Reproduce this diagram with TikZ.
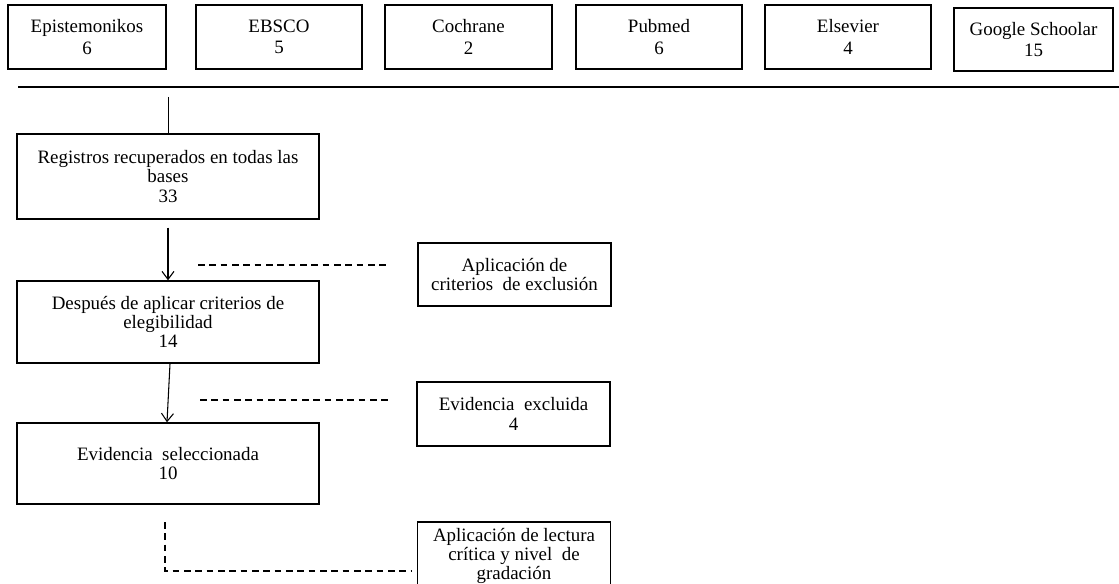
\documentclass[tikz,border=0pt]{standalone}
\usepackage{fontspec}
\setmainfont{Liberation Serif}
\usepackage{tikz}
\usetikzlibrary{calc,arrows.meta}

\begin{document}
\begin{tikzpicture}[x=0.75pt,y=-0.75pt,
	caja/.style={draw,line width=1.1pt,align=center,inner sep=0pt,font=\fontsize{14.2}{14.4}\selectfont},
	base/.style={caja,minimum height=48pt,font=\fontsize{14.2}{16}\selectfont},
	flecha/.style={line width=0.8pt,-{Straight Barb[length=6pt,width=9pt]}},
	guion/.style={line width=0.8pt,dash pattern=on 5pt off 3.5pt}]
			\useasboundingbox (0,0) rectangle (1119,584);
			\pgfmathsetmacro{\bw}{302*0.75}   % ancho columna izquierda
			\pgfmathsetmacro{\cw}{193*0.75}   % ancho columna derecha

			% bases de datos
			\node[base,minimum width=118.5pt] (epis) at (87,37) {Epistemonikos\\6};
			\node[base,minimum width=124.5pt] (ebsco) at (279,37) {EBSCO\\5};
			\node[base,minimum width=125.25pt] (coch) at (468.5,37) {Cochrane\\2};
			\node[base,minimum width=124.5pt] (pub) at (659,37) {Pubmed\\6};
			\node[base,minimum width=124.5pt] (els) at (848,37) {Elsevier\\4};
			\node[base,minimum width=119.25pt,minimum height=47.25pt] (goo) at (1033.5,39.5) {Google Schoolar\\15};

			\coordinate (rulel) at (18,87);
			\coordinate (ruler) at (1119,87);
			\draw[line width=1.5pt] (rulel) -- (ruler);

			% columna izquierda
			\node[caja,minimum width=\bw pt,minimum height=63.75pt] (reg) at (168,176.5) {Registros recuperados en todas las\\bases\\33};
			\node[caja,minimum width=\bw pt,minimum height=61.5pt] (desp) at (168,322) {Después de aplicar criterios de\\elegibilidad\\14};
			\node[caja,minimum width=\bw pt,minimum height=60.75pt] (sel) at (168,463.5) {Evidencia\ \ seleccionada\\10};

			\coordinate (stem) at (168,97);
			\draw[line width=0.5pt] (stem) -- (reg.north);
			\draw[flecha] ($(reg.south)+(0,8)$) -- (desp.north);
			\draw[flecha] ($(desp.south)+(2,0)$) -- ($(sel.north)+(-1,0)$);

			% columna derecha
			\node[caja,minimum width=\cw pt,minimum height=47.25pt] (crit) at (514.5,274.5) {Aplicación de\\criterios\ \ de exclusión};
			\node[caja,minimum width=\cw pt,minimum height=48pt] (excl) at (513.5,414) {Evidencia\ \ excluida\\4};
			\node[caja,minimum width=\cw pt,minimum height=51pt] (lect) at (514,556) {Aplicación de lectura\\crítica y nivel\ \ de\\gradación};

			\coordinate (d1a) at (198,265);
			\coordinate (d1b) at (388,265);
			\draw[guion] (d1a) -- (d1b);
			\coordinate (d2a) at (200,400);
			\coordinate (d2b) at (392,400);
			\draw[guion] (d2a) -- (d2b);
			\coordinate (d3a) at (165,522);
			\coordinate (d3b) at (412,571);
			\draw[guion] (d3a) |- (d3b);
		\end{tikzpicture}
\end{document}
